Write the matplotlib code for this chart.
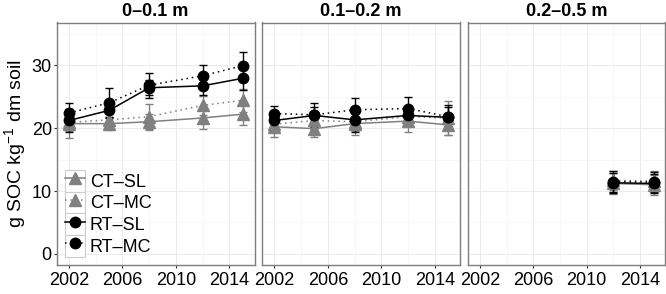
import numpy as np
import matplotlib
matplotlib.use('Agg')
from matplotlib import pyplot as plt
from matplotlib.legend_handler import HandlerLine2D
from matplotlib.patches import Rectangle
from matplotlib.lines import Line2D

plt.rcParams['font.family'] = ['Liberation Sans', 'DejaVu Sans']
plt.rcParams['mathtext.default'] = 'regular'

# data (mean and error bar half-width)
years = [2002, 2005, 2008, 2012, 2015]
depths = ['0\u20130.1 m', '0.1\u20130.2 m', '0.2\u20130.5 m']
nan = np.nan

ct_sl = [[20.7, 20.7, 21.0, 21.6, 22.2],
         [20.2, 19.9, 20.7, 21.1, 20.5],
         [nan, nan, nan, 11.2, 11.0]]
ct_sl_err = [[2.3, 1.0, 1.3, 1.8, 1.7],
             [1.6, 1.3, 1.8, 1.7, 1.6],
             [nan, nan, nan, 1.7, 1.6]]
ct_mc = [[20.9, 21.3, 21.8, 23.6, 24.4],
         [20.6, 21.2, 21.0, 21.8, 21.6],
         [nan, nan, nan, 11.7, 11.6]]
ct_mc_err = [[1.4, 1.0, 2.0, 1.5, 1.8],
             [1.3, 1.4, 1.5, 1.5, 2.7],
             [nan, nan, nan, 1.5, 1.6]]
rt_sl = [[21.2, 22.8, 26.4, 26.7, 27.9],
         [21.2, 22.0, 21.3, 22.0, 21.7],
         [nan, nan, nan, 11.3, 11.2]]
rt_sl_err = [[1.8, 1.2, 1.2, 1.5, 1.8],
             [1.3, 1.4, 1.9, 1.5, 2.0],
             [nan, nan, nan, 1.6, 1.5]]
rt_mc = [[22.4, 24.0, 26.8, 28.3, 29.9],
         [22.3, 22.1, 22.9, 23.1, 21.8],
         [nan, nan, nan, 11.5, 11.4]]
rt_mc_err = [[1.5, 2.3, 2.0, 1.7, 2.2],
             [1.2, 1.9, 1.8, 1.8, 1.5],
             [nan, nan, nan, 1.6, 1.6]]

series = [
    ('CT\u2013SL', ct_sl, ct_sl_err, '#808080', '-', '^', 8.5),
    ('CT\u2013MC', ct_mc, ct_mc_err, '#808080', (0, (1, 2.5)), '^', 8.5),
    ('RT\u2013SL', rt_sl, rt_sl_err, 'black', '-', 'o', 7.5),
    ('RT\u2013MC', rt_mc, rt_mc_err, 'black', (0, (1, 2.5)), 'o', 7.5),
]


class KeyBox(HandlerLine2D):
    # ggplot-style legend key: grey bordered square behind each symbol
    def create_artists(self, legend, orig_handle, xdescent, ydescent,
                       width, height, fontsize, trans):
        rect = Rectangle((-xdescent, -ydescent), width, height,
                         facecolor='white', edgecolor='#cccccc', lw=0.8,
                         transform=trans)
        arts = super().create_artists(legend, orig_handle, xdescent, ydescent,
                                      width, height, fontsize, trans)
        return [rect] + list(arts)


fig = plt.figure(figsize=(6.66, 2.94), dpi=100)
W, H = 666.0, 294.0
left0, pitch, pw = 56.7, 205.4, 197.8
top, bottom = 22.5, 265.0

axes = []
for i, depth in enumerate(depths):
    ax = fig.add_axes([(left0 + i * pitch) / W, (H - bottom) / H,
                       pw / W, (bottom - top) / H])
    axes.append(ax)
    ax.set_xlim(2001.08, 2015.88)
    ax.set_ylim(-1.75, 36.76)
    ax.set_xticks([2002, 2006, 2010, 2014])
    ax.set_xticks([2004, 2008, 2012], minor=True)
    ax.set_yticks([0, 10, 20, 30])
    ax.set_yticks([5, 15, 25, 35], minor=True)
    ax.grid(which='major', color='#ebebeb', lw=0.7)
    ax.grid(which='minor', color='#f4f4f4', lw=0.5)
    ax.set_axisbelow(True)
    for sp in ax.spines.values():
        sp.set_color('#7f7f7f')
        sp.set_linewidth(1.0)
    ax.tick_params(which='major', length=2.5, width=0.8, color='#333333',
                   labelsize=13, pad=2.8, labelcolor='black')
    ax.tick_params(which='minor', length=0)
    if i > 0:
        ax.tick_params(axis='y', which='both', left=False, labelleft=False)
    else:
        ax.tick_params(axis='y', pad=1)
    ax.set_title(depth, fontsize=13, fontweight='bold', pad=5)

    for name, mean, err, col, ls, mk, ms in series:
        m = np.array(mean[i])
        e = np.array(err[i])
        ok = ~np.isnan(m)
        x = np.array(years)[ok]
        ax.errorbar(x, m[ok], yerr=e[ok], fmt='none', ecolor=col,
                    elinewidth=1.0, capsize=3, capthick=1.0, zorder=2)
        ax.plot(x, m[ok], color=col, ls=ls, lw=1.1, marker=mk, ms=ms,
                mec=col, mfc=col, zorder=3, label=name)

fig.text(15 / W, 1 - (top + bottom) / 2 / H, 'g SOC kg$^{-1}$ dm soil',
         rotation=90, ha='center', va='center', fontsize=14)

handles = [Line2D([], [], color=c, ls=ls, lw=1.1, marker=mk, ms=ms,
                  mec=c, mfc=c) for _, _, _, c, ls, mk, ms in series]
labels = [s[0] for s in series]
leg = axes[0].legend(handles, labels, loc='lower left',
                     bbox_to_anchor=(8.3 / pw, 8.3 / (bottom - top)),
                     frameon=False, fontsize=13, handlelength=1.1,
                     handleheight=1.47, labelspacing=0.0, handletextpad=0.28,
                     borderpad=0, borderaxespad=0,
                     handler_map={Line2D: KeyBox(numpoints=1)})

fig.savefig('out.png', dpi=100)
